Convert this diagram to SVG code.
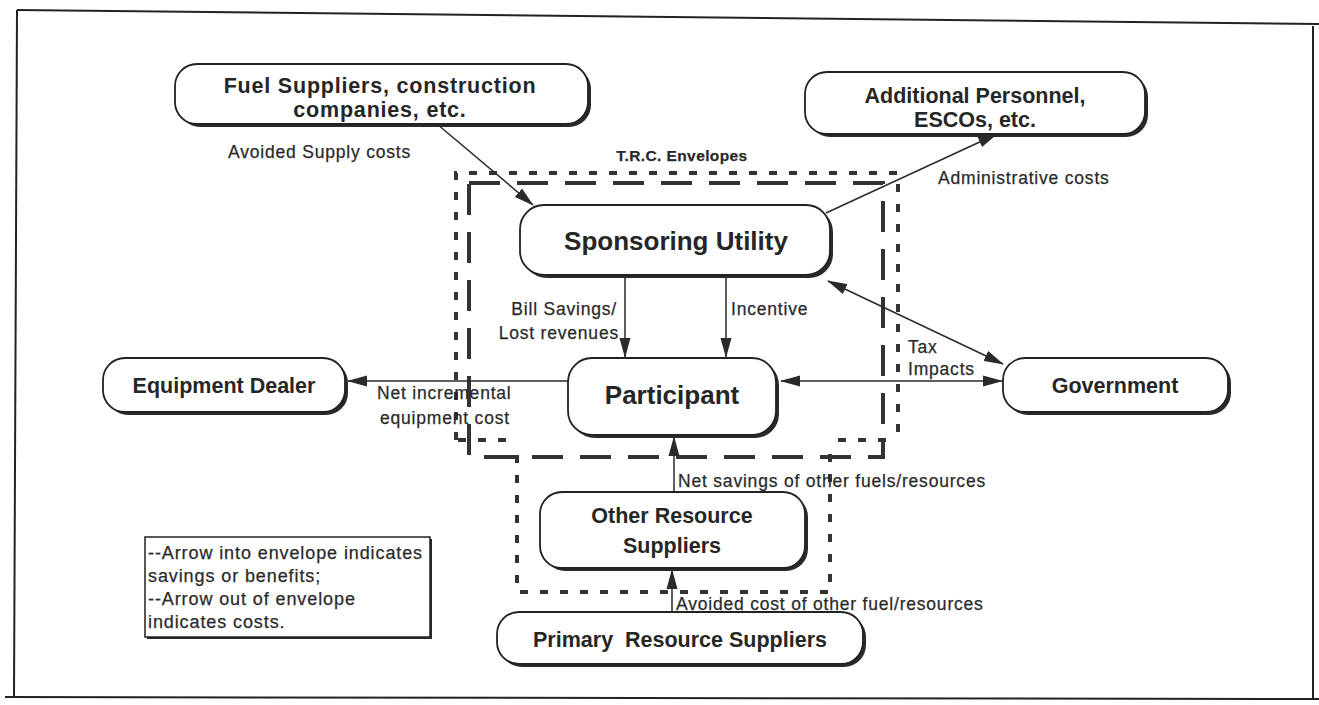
<svg xmlns="http://www.w3.org/2000/svg" width="1319" height="705" viewBox="0 0 1319 705">
<defs>
<style>
.sh{fill:#2a2a2a;stroke:none}
.bx{fill:#fff;stroke:#222;stroke-width:1.8}
.nt{font-family:"Liberation Sans",Arial,sans-serif;font-weight:bold;fill:#262626;text-anchor:middle}
.n22{font-size:21.5px}
.n26{font-size:26px}
.lb{font-family:"Liberation Sans",Arial,sans-serif;font-size:17.5px;letter-spacing:0.8px;fill:#2a2a2a;stroke:#2a2a2a;stroke-width:0.25}
.lg{font-family:"Liberation Sans",Arial,sans-serif;font-size:18px;letter-spacing:0.9px;fill:#2a2a2a;stroke:#2a2a2a;stroke-width:0.25}
.cn{fill:none;stroke:#2a2a2a;stroke-width:1.5}
.env1{fill:none;stroke:#333;stroke-width:4;stroke-dasharray:8 12}
.env2{fill:none;stroke:#333;stroke-width:4;stroke-dasharray:31 17}
.frame{fill:none;stroke:#222;stroke-width:2}
</style>
<marker id="ah" markerUnits="userSpaceOnUse" markerWidth="20" markerHeight="12" refX="19" refY="6" orient="auto-start-reverse" viewBox="0 0 20 12">
<path d="M0,0.5 L20,6 L0,11.5 z" fill="#2a2a2a"/>
</marker>
</defs>
<rect width="1319" height="705" fill="#fff"/>
<g id="frame">
<path class="frame" d="M17,10 L1319,24"/>
<path class="frame" d="M17,10 L14,697"/>
<path class="frame" d="M5,697 L1319,699" stroke-width="2.5"/>
<path class="frame" d="M1313,26 L1313,699"/>
</g>
<g id="envelopes">
<path class="env1" d="M456,440 L456,173 L898,173 L898,440"/>
<path class="env1" d="M458,440 L510,440 M838,440 L898,440"/>
<path class="env1" d="M517,455 L517,592 L830,592 L830,452"/>
<rect class="env2" x="469" y="183" width="414" height="274"/>
<text class="lb" x="682" y="161" text-anchor="middle" font-weight="bold" style="font-size:15.5px;letter-spacing:0.4px">T.R.C. Envelopes</text>
</g>
<g id="connectors">
<path class="cn" d="M437,124 L533,205" marker-end="url(#ah)"/>
<path class="cn" d="M826,213 L997,134" marker-end="url(#ah)"/>
<path class="cn" d="M625,276 L625,357" marker-end="url(#ah)"/>
<path class="cn" d="M726,276 L726,357" marker-end="url(#ah)"/>
<path class="cn" d="M568,381 L348,381" marker-end="url(#ah)"/>
<path class="cn" d="M781,381 L1002,381" marker-start="url(#ah)" marker-end="url(#ah)"/>
<path class="cn" d="M828,281 L1003,364" marker-start="url(#ah)" marker-end="url(#ah)"/>
<path class="cn" d="M674,492 L674,437" marker-end="url(#ah)"/>
<path class="cn" d="M672,612 L672,570" marker-end="url(#ah)"/>
<text class="lb" x="228" y="158">Avoided Supply costs</text>
<text class="lb" x="938" y="184">Administrative costs</text>
<text class="lb" x="617" y="315" text-anchor="end">Bill Savings/</text>
<text class="lb" x="619" y="339" text-anchor="end">Lost revenues</text>
<text class="lb" x="731" y="315">Incentive</text>
<text class="lb" x="377" y="399">Net incremental</text>
<text class="lb" x="380" y="424">equipment cost</text>
<text class="lb" x="908" y="353">Tax</text>
<text class="lb" x="908" y="375">Impacts</text>
<text class="lb" x="678" y="487">Net savings of other fuels/resources</text>
<text class="lb" x="676" y="610">Avoided cost of other fuel/resources</text>
</g>
<g id="fuel">
<rect class="sh" x="178" y="67" width="413" height="60" rx="22"/>
<rect class="bx" x="175" y="64" width="413" height="60" rx="22"/>
<text class="nt n22" x="380" y="93" style="letter-spacing:0.8px">Fuel Suppliers, construction</text>
<text class="nt n22" x="380" y="117" style="letter-spacing:0.8px">companies, etc.</text>
</g>
<g id="additional">
<rect class="sh" x="808" y="75" width="340" height="62" rx="22"/>
<rect class="bx" x="805" y="72" width="340" height="62" rx="22"/>
<text class="nt n22" x="975" y="103">Additional Personnel,</text>
<text class="nt n22" x="975" y="127">ESCOs, etc.</text>
</g>
<g id="sponsoring">
<rect class="sh" x="523" y="208" width="310" height="70" rx="24"/>
<rect class="bx" x="520" y="205" width="310" height="70" rx="24"/>
<text class="nt n26" x="676" y="250">Sponsoring Utility</text>
</g>
<g id="participant">
<rect class="sh" x="571" y="361" width="208" height="77" rx="24"/>
<rect class="bx" x="568" y="358" width="208" height="77" rx="24"/>
<text class="nt n26" x="672" y="404">Participant</text>
</g>
<g id="equipment">
<rect class="sh" x="106" y="361" width="242" height="54" rx="22"/>
<rect class="bx" x="103" y="358" width="242" height="54" rx="22"/>
<text class="nt n22" x="224" y="393">Equipment Dealer</text>
</g>
<g id="government">
<rect class="sh" x="1006" y="361" width="225" height="54" rx="22"/>
<rect class="bx" x="1003" y="358" width="225" height="54" rx="22"/>
<text class="nt n22" x="1115" y="393">Government</text>
</g>
<g id="other">
<rect class="sh" x="543" y="495" width="265" height="76" rx="22"/>
<rect class="bx" x="540" y="492" width="265" height="76" rx="22"/>
<text class="nt n22" x="672" y="523">Other Resource</text>
<text class="nt n22" x="672" y="553">Suppliers</text>
</g>
<g id="primary">
<rect class="sh" x="500" y="615" width="366" height="52" rx="22"/>
<rect class="bx" x="497" y="612" width="366" height="52" rx="22"/>
<text class="nt n22" x="680" y="647" xml:space="preserve">Primary  Resource Suppliers</text>
</g>
<g id="legend">
<rect x="147" y="539" width="285" height="100" fill="#2a2a2a"/>
<rect x="145" y="537" width="285" height="100" fill="#fff" stroke="#222" stroke-width="1.5"/>
<text class="lg" x="148" y="559">--Arrow into envelope indicates</text>
<text class="lg" x="148" y="582">savings or benefits;</text>
<text class="lg" x="148" y="605">--Arrow out of envelope</text>
<text class="lg" x="148" y="628">indicates costs.</text>
</g>
</svg>
